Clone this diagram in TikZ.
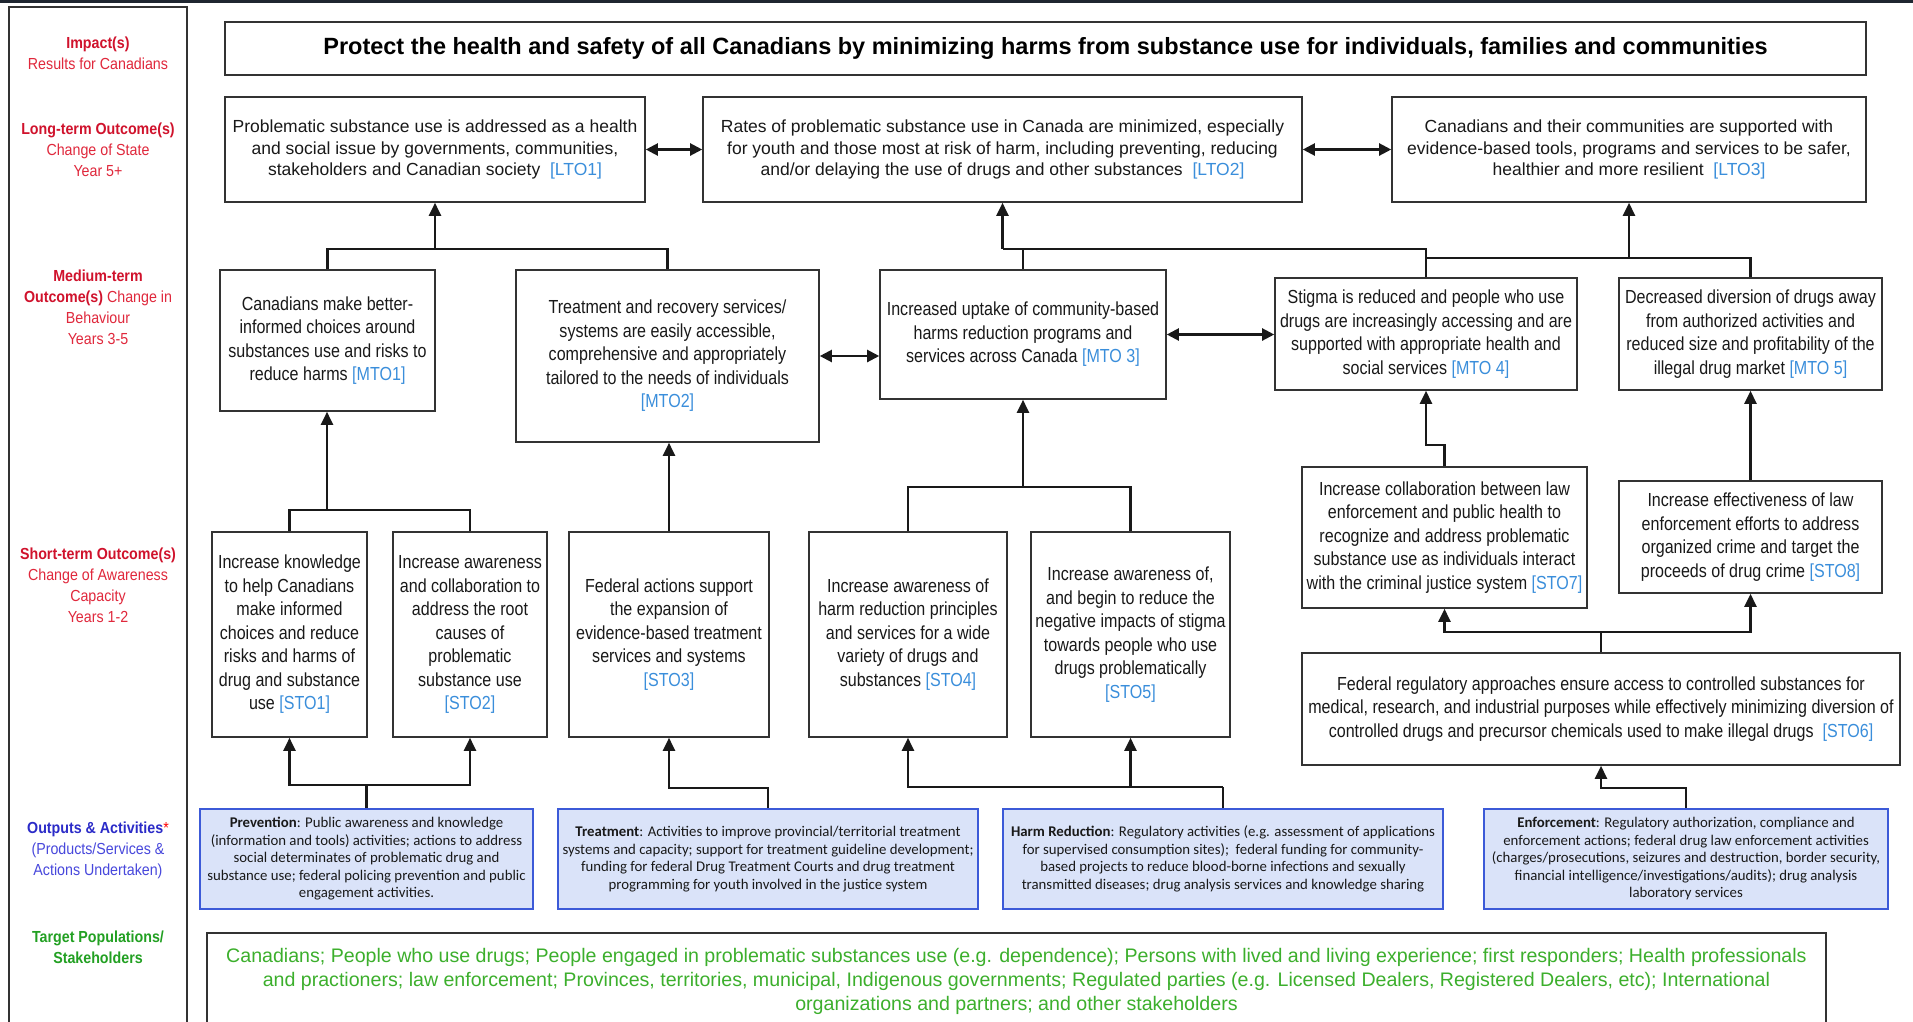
\documentclass[tikz,border=0pt]{standalone}
\usepackage{fontspec}
\setmainfont{Liberation Sans}
\newfontfamily\narfont[FakeStretch=0.85]{Liberation Sans}
\newfontfamily\labfont[FakeStretch=0.89]{Liberation Sans}
\newfontfamily\calfont{Carlito}
\usetikzlibrary{arrows.meta}
\definecolor{tagblue}{HTML}{3A8EDB}
\definecolor{redb}{HTML}{D0122C}
\definecolor{redn}{HTML}{E0283C}
\definecolor{outb}{HTML}{2B2BC8}
\definecolor{outn}{HTML}{4848DC}
\definecolor{grnb}{HTML}{22A022}
\definecolor{grnt}{HTML}{3CAF2C}
\definecolor{actfill}{HTML}{DAE3F9}
\definecolor{actdraw}{HTML}{3C5AD8}
\definecolor{topbar}{HTML}{1F2630}
\newcommand\tg[1]{\textcolor{tagblue}{#1}}
\tikzset{
  box/.style={draw=black!80, line width=1.6pt, fill=white, align=center, inner sep=0pt, text=black!90},
  mto/.style={box, font=\narfont\fontsize{18.9}{23.5}\selectfont},
  lto/.style={box, font=\fontsize{17.5}{21.5}\selectfont},
  act/.style={draw=actdraw, fill=actfill, line width=1.6pt, align=center, inner sep=0pt, text=black!90, font=\calfont\fontsize{14.8}{17.5}\selectfont},
  lbl/.style={align=center, inner sep=0pt, font=\labfont\fontsize{16}{21}\selectfont},
  ln/.style={line width=2.2pt, draw=black!90},
  arr/.style={ln, -{Triangle[length=13pt,width=12pt]}},
  darr/.style={ln, {Triangle[length=12pt,width=12pt]}-{Triangle[length=12pt,width=12pt]}},
}
\begin{document}
\begin{tikzpicture}[x=1pt, y=-1pt]
\useasboundingbox (0,0) rectangle (1913,1021);
\clip (0,0) rectangle (1913,1021);
\fill[white] (0,0) rectangle (1913,1021);
\fill[topbar] (0,0) rectangle (1913,3);
% left panel
\draw[line width=1.6pt, black!80] (9,1040) -- (9,7) -- (187,7) -- (187,1040);
\node[lbl] (l1) at (98,53.5) {\textcolor{redb}{\bfseries Impact(s)}\\\textcolor{redn}{Results for Canadians}};
\node[lbl] (l2) at (98,149.5) {\textcolor{redb}{\bfseries Long-term Outcome(s)}\\\textcolor{redn}{Change of State}\\\textcolor{redn}{Year 5+}};
\node[lbl] (l3) at (98,307.5) {\textcolor{redb}{\bfseries Medium-term}\\\textcolor{redb}{\bfseries Outcome(s)}\ \textcolor{redn}{Change in}\\\textcolor{redn}{Behaviour}\\\textcolor{redn}{Years 3-5}};
\node[lbl] (l4) at (98,585) {\textcolor{redb}{\bfseries Short-term Outcome(s)}\\\textcolor{redn}{Change of Awareness}\\\textcolor{redn}{Capacity}\\\textcolor{redn}{Years 1-2}};
\node[lbl] (l5) at (98,850) {\textcolor{outb}{\bfseries Outputs \& Activities}\textcolor{red}{*}\\\textcolor{outn}{(Products/Services \&}\\\textcolor{outn}{Actions Undertaken)}};
\node[lbl] (l6) at (98,947) {\textcolor{grnb}{\bfseries Target Populations/}\\\textcolor{grnb}{\bfseries Stakeholders}};
% title
\node[box, minimum width=1641pt, minimum height=53pt, font=\bfseries\fontsize{23.5}{28}\selectfont, text=black] (title) at (1045.5,48.5) {Protect the health and safety of all Canadians by minimizing harms from substance use for individuals, families and communities};
% long-term
\node[lto, minimum width=420pt, minimum height=105pt] (LTO1) at (435,149.5) {Problematic substance use is addressed as a health\\and social issue by governments, communities,\\stakeholders and Canadian society~~\tg{[LTO1]}};
\node[lto, minimum width=599pt, minimum height=105pt] (LTO2) at (1002.5,149.5) {Rates of problematic substance use in Canada are minimized, especially\\for youth and those most at risk of harm, including preventing, reducing\\and/or delaying the use of drugs and other substances~~\tg{[LTO2]}};
\node[lto, minimum width=474pt, minimum height=105pt] (LTO3) at (1629,149.5) {Canadians and their communities are supported with\\evidence-based tools, programs and services to be safer,\\healthier and more resilient~~\tg{[LTO3]}};
% medium-term
\node[mto, minimum width=215pt, minimum height=141pt] (MTO1) at (327.5,340.5) {Canadians make better-\\informed choices around\\substances use and risks to\\reduce harms \tg{[MTO1]}};
\node[mto, minimum width=303pt, minimum height=172pt] (MTO2) at (667.5,356) {Treatment and recovery services/\\systems are easily accessible,\\comprehensive and appropriately\\tailored to the needs of individuals\\\tg{[MTO2]}};
\node[mto, minimum width=286pt, minimum height=129pt] (MTO3) at (1023,334.5) {Increased uptake of community-based\\harms reduction programs and\\services across Canada \tg{[MTO 3]}};
\node[mto, minimum width=302pt, minimum height=112pt] (MTO4) at (1426,334) {Stigma is reduced and people who use\\drugs are increasingly accessing and are\\supported with appropriate health and\\social services \tg{[MTO 4]}};
\node[mto, minimum width=263pt, minimum height=112pt] (MTO5) at (1750.5,334) {Decreased diversion of drugs away\\from authorized activities and\\reduced size and profitability of the\\illegal drug market \tg{[MTO 5]}};
% short-term
\node[mto, minimum width=155pt, minimum height=205pt] (STO1) at (289.5,634.5) {Increase knowledge\\to help Canadians\\make informed\\choices and reduce\\risks and harms of\\drug and substance\\use \tg{[STO1]}};
\node[mto, minimum width=154pt, minimum height=205pt] (STO2) at (470,634.5) {Increase awareness\\and collaboration to\\address the root\\causes of\\problematic\\substance use\\\tg{[STO2]}};
\node[mto, minimum width=200pt, minimum height=205pt] (STO3) at (669,634.5) {Federal actions support\\the expansion of\\evidence-based treatment\\services and systems\\\tg{[STO3]}};
\node[mto, minimum width=198pt, minimum height=205pt] (STO4) at (908,634.5) {Increase awareness of\\harm reduction principles\\and services for a wide\\variety of drugs and\\substances \tg{[STO4]}};
\node[mto, minimum width=199pt, minimum height=205pt] (STO5) at (1130.5,634.5) {Increase awareness of,\\and begin to reduce the\\negative impacts of stigma\\towards people who use\\drugs problematically\\\tg{[STO5]}};
\node[mto, minimum width=285pt, minimum height=141pt] (STO7) at (1444.5,537.5) {Increase collaboration between law\\enforcement and public health to\\recognize and address problematic\\substance use as individuals interact\\with the criminal justice system \tg{[STO7]}};
\node[mto, minimum width=263pt, minimum height=112pt] (STO8) at (1750.5,537) {Increase effectiveness of law\\enforcement efforts to address\\organized crime and target the\\proceeds of drug crime \tg{[STO8]}};
\node[mto, minimum width=598pt, minimum height=112pt] (STO6) at (1601,709) {Federal regulatory approaches ensure access to controlled substances for\\medical, research, and industrial purposes while effectively minimizing diversion of\\controlled drugs and precursor chemicals used to make illegal drugs~~\tg{[STO6]}};
% activities
\node[act, minimum width=333pt, minimum height=100pt] (PREV) at (366.5,859) {\textbf{Prevention}: Public awareness and knowledge\\(information and tools) activities; actions to address\\social determinates of problematic drug and\\substance use; federal policing prevention and public\\engagement activities.};
\node[act, minimum width=420pt, minimum height=100pt] (TREAT) at (768,859) {\textbf{Treatment}: Activities to improve provincial/territorial treatment\\systems and capacity; support for treatment guideline development;\\funding for federal Drug Treatment Courts and drug treatment\\programming for youth involved in the justice system};
\node[act, minimum width=440pt, minimum height=100pt] (HARM) at (1223,859) {\textbf{Harm Reduction}: Regulatory activities (e.g. assessment of applications\\for supervised consumption sites);~~federal funding for community-\\based projects to reduce blood-borne infections and sexually\\transmitted diseases; drug analysis services and knowledge sharing};
\node[act, minimum width=404pt, minimum height=100pt] (ENF) at (1686,859) {\textbf{Enforcement}: Regulatory authorization, compliance and\\enforcement actions; federal drug law enforcement activities\\(charges/prosecutions, seizures and destruction, border security,\\financial intelligence/investigations/audits); drug analysis\\laboratory services};
% target populations
\draw[line width=1.6pt, black!80] (207,1040) -- (207,933) -- (1826,933) -- (1826,1040);
\node[align=center, inner sep=0pt, text=grnt, font=\fontsize{19.6}{24}\selectfont, anchor=north] (TGT) at (1016.5,948) {Canadians; People who use drugs; People engaged in problematic substances use (e.g. dependence); Persons with lived and living experience; first responders; Health professionals\\and practioners; law enforcement; Provinces, territories, municipal, Indigenous governments; Regulated parties (e.g. Licensed Dealers, Registered Dealers, etc); International\\organizations and partners; and other stakeholders};
% connectors: long-term level
\draw[darr] (LTO1.east) -- (LTO2.west);
\draw[darr] (LTO2.east) -- (LTO3.west);
\draw[darr] (MTO2.east) -- (MTO2.east -| MTO3.west);
\draw[darr] (MTO3.east) -- (MTO3.east -| MTO4.west);
\coordinate (J1) at (435,249);
\draw[ln] (MTO1.north) |- (J1) -| (MTO2.north);
\draw[arr] (J1) -- (LTO1.south);
\coordinate (J2) at (1002.5,249);
\draw[arr] (J2) -- (LTO2.south);
\draw[ln] (MTO3.north) |- (J2);
\draw[ln] (J2) -| (MTO4.north);
\coordinate (J3) at (1629,258);
\draw[arr] (J3) -- (LTO3.south);
\draw[ln] (MTO4.north |- J3) -| (MTO5.north);
% connectors: short to medium
\coordinate (J4) at (327,510);
\draw[ln] (STO1.north) |- (J4) -| (STO2.north);
\draw[arr] (J4) -- (J4 |- MTO1.south);
\draw[arr] (STO3.north) -- (STO3.north |- MTO2.south);
\coordinate (J5) at (1023,487);
\draw[ln] (STO4.north) |- (J5) -| (STO5.north);
\draw[arr] (J5) -- (MTO3.south);
\coordinate (K1) at (1444.5,445);
\draw[arr] (STO7.north) -- (K1) -| (MTO4.south);
\draw[arr] (STO8.north) -- (MTO5.south);
\coordinate (J6) at (1601,632);
\draw[ln] (STO6.north) -- (J6);
\draw[arr] (J6) -| (STO7.south);
\draw[arr] (J6) -| (STO8.south);
% connectors: activities to short-term
\coordinate (J7) at (366.5,785);
\draw[ln] (PREV.north) -- (J7);
\draw[arr] (J7) -| (STO1.south);
\draw[arr] (J7) -| (STO2.south);
\coordinate (J8) at (768,788);
\draw[arr] (TREAT.north) -- (J8) -| (STO3.south);
\coordinate (J9) at (1223,787);
\draw[ln] (HARM.north) -- (J9);
\draw[arr] (J9) -| (STO4.south);
\draw[arr] (J9) -| (STO5.south);
\coordinate (J10) at (1686,788);
\draw[arr] (ENF.north) -- (J10) -| (STO6.south);
\end{tikzpicture}
\end{document}
